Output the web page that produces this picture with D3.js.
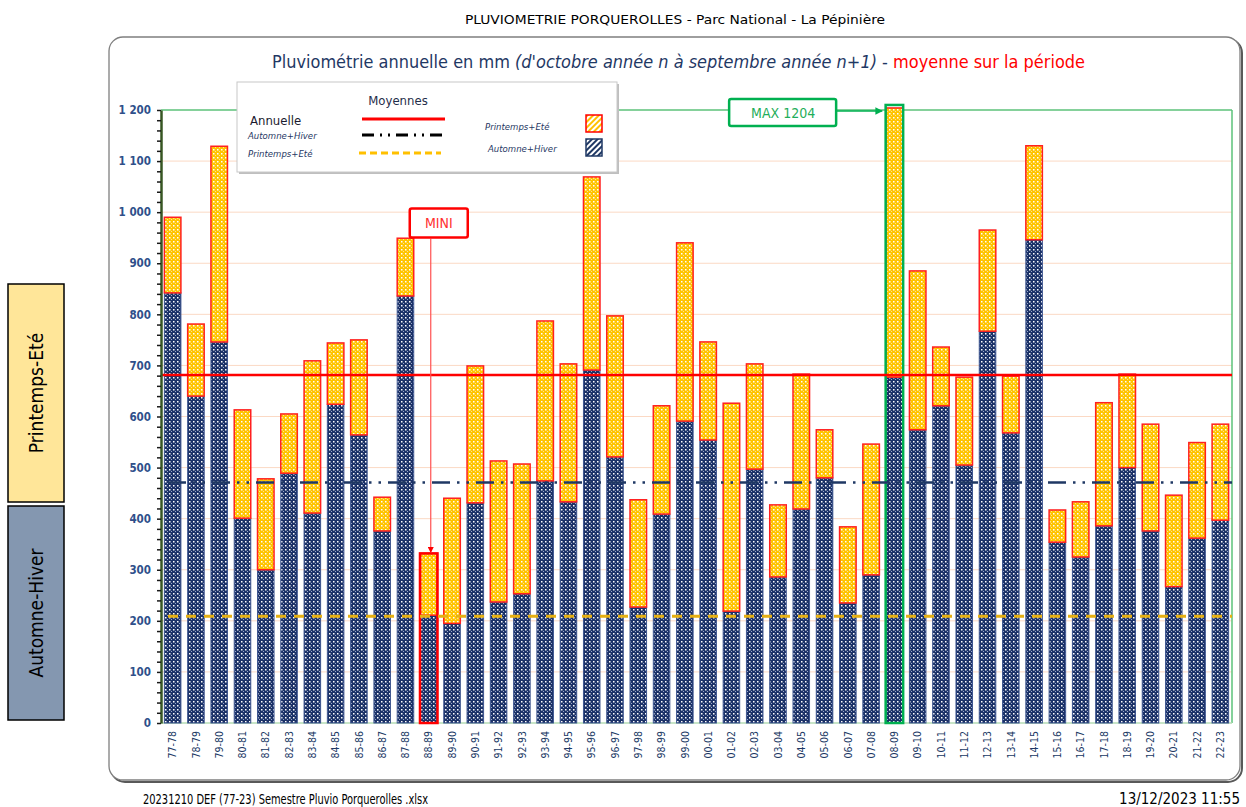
<!DOCTYPE html>
<html lang="fr">
<head>
	<meta charset="UTF-8">
	<title>Pluviométrie Porquerolles</title>
	<script src="https://cdn.jsdelivr.net/npm/d3@7/dist/d3.min.js"></script>
	<style>
		body { margin: 0; background: #fff; }
		text { font-family: "Liberation Sans Narrow", "DejaVu Sans Condensed", "Liberation Sans", sans-serif; }
	</style>
</head>
<body>
	<div id="vis"></div>

	<script>
		var width = 1246;
		var height = 807;

		// saisons (octobre n -> septembre n+1)
		var seasons = ["77-78","78-79","79-80","80-81","81-82","82-83","83-84","84-85","85-86","86-87",
			"87-88","88-89","89-90","90-91","91-92","92-93","93-94","94-95","95-96","96-97",
			"97-98","98-99","99-00","00-01","01-02","02-03","03-04","04-05","05-06","06-07",
			"07-08","08-09","09-10","10-11","11-12","12-13","13-14","14-15","15-16","16-17",
			"17-18","18-19","19-20","20-21","21-22","22-23"];

		// pluie en mm, semestre Automne+Hiver
		var automneHiver = [842,640,746,401,300,489,411,624,564,376,
			836,211,195,431,237,253,474,433,691,521,
			227,409,591,554,219,497,286,419,480,235,
			290,677,574,621,505,767,568,946,354,325,
			386,500,376,267,362,397];

		// pluie en mm, semestre Printemps+Eté
		var printempsEte = [148,141,383,212,178,116,298,120,186,66,
			113,121,245,268,276,254,313,270,378,276,
			210,212,349,192,407,206,141,264,94,149,
			256,527,311,115,172,198,111,184,63,108,
			241,183,209,179,187,188];

		// moyennes sur la période
		var moyAnnuelle = 681;
		var moyAutomneHiver = 471;
		var moyPrintempsEte = 209;

		var yTicks = [0,100,200,300,400,500,600,700,800,900,1000,1100,1200];

		var navy = "#1f3864";
		var orange = "#ffc000";
		var green = "#00b050";

		var svg = d3.select("#vis").append("svg")
			.attr("width", width)
			.attr("height", height);

		// motifs des barres
		var defs = svg.append("defs");

		function dotPattern(id, bg, dot, mid) {
			var p = defs.append("pattern")
				.attr("id", id)
				.attr("patternUnits", "userSpaceOnUse")
				.attr("width", 4).attr("height", 4);
			p.append("rect").attr("width", 4).attr("height", 4).attr("fill", bg);
			p.append("rect").attr("x", 1).attr("y", 1).attr("width", 1.5).attr("height", 1.5).attr("fill", dot);
			p.append("rect").attr("x", 3).attr("y", 3).attr("width", 1).attr("height", 1).attr("fill", mid);
		}
		dotPattern("patAH", "#1c3268", "#ffffff", "#9aa8cc");
		dotPattern("patPE", "#ffc400", "#ffffff", "#ffe38f");

		function hatchPattern(id, bg, line) {
			var p = defs.append("pattern")
				.attr("id", id)
				.attr("patternUnits", "userSpaceOnUse")
				.attr("width", 4).attr("height", 4)
				.attr("patternTransform", "rotate(45)");
			p.append("rect").attr("width", 4).attr("height", 4).attr("fill", bg);
			p.append("rect").attr("width", 2).attr("height", 4).attr("fill", line);
		}
		hatchPattern("hatchPE", "#ffffff", orange);
		hatchPattern("hatchAH", "#ffffff", navy);

		defs.append("marker")
			.attr("id", "arrowRed")
			.attr("viewBox", "0 0 10 10")
			.attr("refX", 9).attr("refY", 5)
			.attr("markerWidth", 5).attr("markerHeight", 5)
			.attr("orient", "auto")
			.append("path").attr("d", "M0,0L10,5L0,10z").attr("fill", "#ff0000");

		defs.append("marker")
			.attr("id", "arrowGreen")
			.attr("viewBox", "0 0 10 10")
			.attr("refX", 9).attr("refY", 5)
			.attr("markerWidth", 5).attr("markerHeight", 5)
			.attr("orient", "auto")
			.append("path").attr("d", "M0,0L10,5L0,10z").attr("fill", green);

		// en-tête
		svg.append("text")
			.attr("x", 675).attr("y", 24)
			.attr("text-anchor", "middle")
			.attr("font-size", 13)
			.attr("fill", "#000")
			.attr("textLength", 420).attr("lengthAdjust", "spacingAndGlyphs")
			.text("PLUVIOMETRIE PORQUEROLLES - Parc National - La Pépinière");

		// cadre arrondi avec ombre
		svg.append("rect")
			.attr("x", 111).attr("y", 39)
			.attr("width", 1131).attr("height", 743)
			.attr("rx", 14)
			.attr("fill", "none")
			.attr("stroke", "#595959")
			.attr("stroke-width", 2);
		svg.append("rect")
			.attr("x", 109).attr("y", 37)
			.attr("width", 1131).attr("height", 743)
			.attr("rx", 14)
			.attr("fill", "#fff")
			.attr("stroke", "#7f7f7f")
			.attr("stroke-width", 1.3);

		// titre
		var title = svg.append("text")
			.attr("x", 272).attr("y", 68)
			.attr("font-size", 17)
			.attr("textLength", 813).attr("lengthAdjust", "spacingAndGlyphs");
		title.append("tspan").attr("fill", navy).text("Pluviométrie annuelle en mm ");
		title.append("tspan").attr("fill", navy).attr("font-style", "italic").text("(d'octobre année n à septembre année n+1)");
		title.append("tspan").attr("fill", navy).text(" - ");
		title.append("tspan").attr("fill", "#ff0000").text("moyenne sur la période");

		// échelles
		var x = d3.scaleBand()
			.domain(seasons)
			.range([161, 1232])
			.paddingInner(0.29)
			.paddingOuter(0.145);

		var y = d3.scaleLinear()
			.domain([0, 1200])
			.range([723, 110]);

		// grille
		svg.append("g")
			.selectAll("line")
			.data(yTicks.filter(function(d) { return d > 0 && d < 1200; }))
			.join("line")
			.attr("x1", 161).attr("x2", 1232)
			.attr("y1", function(d) { return y(d); })
			.attr("y2", function(d) { return y(d); })
			.attr("stroke", "#fbd9c4")
			.attr("stroke-width", 1);

		// cadre vert de la zone de tracé
		svg.append("line")
			.attr("x1", 161).attr("x2", 1232)
			.attr("y1", y(1200)).attr("y2", y(1200))
			.attr("stroke", "#5cc27a").attr("stroke-width", 1.5);
		svg.append("line")
			.attr("x1", 1232).attr("x2", 1232)
			.attr("y1", y(1200)).attr("y2", y(0))
			.attr("stroke", "#5cc27a").attr("stroke-width", 1.5);
		svg.append("line")
			.attr("x1", 161).attr("x2", 1232)
			.attr("y1", y(0)).attr("y2", y(0))
			.attr("stroke", "#b5dcb5").attr("stroke-width", 1.5);

		// barres empilées
		var rows = seasons.map(function(s, i) {
			return { season: s, automneHiver: automneHiver[i], printempsEte: printempsEte[i] };
		});
		var stack = d3.stack().keys(["automneHiver", "printempsEte"])(rows);

		var fills = { automneHiver: "url(#patAH)", printempsEte: "url(#patPE)" };
		var strokes = { automneHiver: "#3d5590", printempsEte: "#ff2020" };

		svg.append("g")
			.selectAll("g")
			.data(stack)
			.join("g")
			.attr("fill", function(d) { return fills[d.key]; })
			.attr("stroke", function(d) { return strokes[d.key]; })
			.attr("stroke-width", function(d) { return d.key == "printempsEte" ? 1.5 : 1; })
			.selectAll("rect")
			.data(function(d) { return d; })
			.join("rect")
			.attr("x", function(d) { return x(d.data.season); })
			.attr("width", x.bandwidth())
			.attr("y", function(d) { return y(d[1]); })
			.attr("height", function(d) { return y(d[0]) - y(d[1]); });

		// min / max
		var totals = rows.map(function(d) { return d.automneHiver + d.printempsEte; });
		var iMin = d3.minIndex(totals);
		var iMax = d3.maxIndex(totals);

		svg.append("rect")
			.attr("x", x(seasons[iMin]) - 0.5)
			.attr("width", x.bandwidth() + 1)
			.attr("y", y(totals[iMin]))
			.attr("height", y(0) - y(totals[iMin]))
			.attr("fill", "none")
			.attr("stroke", "#ff0000")
			.attr("stroke-width", 2.5);

		svg.append("rect")
			.attr("x", x(seasons[iMax]) - 0.5)
			.attr("width", x.bandwidth() + 1)
			.attr("y", y(totals[iMax]) - 3)
			.attr("height", y(0) - y(totals[iMax]) + 3)
			.attr("fill", "none")
			.attr("stroke", green)
			.attr("stroke-width", 2.5);

		// lignes de moyenne
		svg.append("line")
			.attr("x1", 162).attr("x2", 1232)
			.attr("y1", y(moyAnnuelle)).attr("y2", y(moyAnnuelle))
			.attr("stroke", "#ff0000").attr("stroke-width", 2.5);

		svg.append("line")
			.attr("x1", 168).attr("x2", 1232)
			.attr("y1", y(moyAutomneHiver)).attr("y2", y(moyAutomneHiver))
			.attr("stroke", navy).attr("stroke-width", 2.5)
			.attr("stroke-dasharray", "18,7,2.5,7,2.5,7");

		svg.append("line")
			.attr("x1", 168).attr("x2", 1232)
			.attr("y1", y(moyPrintempsEte)).attr("y2", y(moyPrintempsEte))
			.attr("stroke", "#e6b012").attr("stroke-width", 3)
			.attr("stroke-dasharray", "10,8");

		// axe Y
		var fr = d3.formatLocale({ decimal: ",", thousands: " ", grouping: [3], currency: ["", "€"] });
		var yAxis = d3.axisLeft(y)
			.tickValues(yTicks)
			.tickSize(0)
			.tickPadding(10)
			.tickFormat(fr.format(",d"));

		var gy = svg.append("g")
			.attr("transform", "translate(161,0)")
			.call(yAxis);
		gy.select(".domain").attr("stroke", "#375623").attr("stroke-width", 2.5);
		gy.selectAll("text")
			.attr("font-size", 11.5)
			.attr("fill", "#2f4f8a")
			.attr("font-weight", "bold");

		var minorAxis = d3.axisLeft(y)
			.tickValues(d3.range(0, 1201, 20))
			.tickSize(4)
			.tickFormat("");
		var gm = svg.append("g")
			.attr("transform", "translate(161,0)")
			.call(minorAxis);
		gm.select(".domain").remove();
		gm.selectAll("line").attr("stroke", "#1a1a1a").attr("stroke-width", 1.5);

		// axe X
		var xAxis = d3.axisBottom(x).tickSize(0).tickPadding(0);
		var gx = svg.append("g")
			.attr("transform", "translate(0," + y(0) + ")")
			.call(xAxis);
		gx.select(".domain").remove();
		gx.selectAll("text")
			.attr("font-size", 10.5)
			.attr("fill", "#203864")
			.attr("text-anchor", "end")
			.attr("transform", "rotate(-90)")
			.attr("x", -8)
			.attr("y", 0)
			.attr("dy", "0.35em");

		// annotation MINI
		var minX = x(seasons[iMin]) + x.bandwidth() / 2;
		svg.append("line")
			.attr("x1", minX + 2).attr("x2", minX + 2)
			.attr("y1", y(950) + 1).attr("y2", y(totals[iMin]) - 1)
			.attr("stroke", "#ff5050").attr("stroke-width", 1.2)
			.attr("marker-end", "url(#arrowRed)");
		svg.append("rect")
			.attr("x", minX - 19).attr("y", y(1007))
			.attr("width", 58).attr("height", 29)
			.attr("rx", 2)
			.attr("fill", "#fff")
			.attr("stroke", "#ff0000").attr("stroke-width", 2.5);
		svg.append("text")
			.attr("x", minX + 10).attr("y", y(1007) + 19)
			.attr("text-anchor", "middle")
			.attr("font-size", 14)
			.attr("fill", "#ff3030")
			.text("MINI");

		// annotation MAX
		var maxX = x(seasons[iMax]);
		svg.append("line")
			.attr("x1", maxX - 50).attr("x2", maxX - 4)
			.attr("y1", y(1200) + 1).attr("y2", y(1200) + 1)
			.attr("stroke", green).attr("stroke-width", 1.5)
			.attr("marker-end", "url(#arrowGreen)");
		svg.append("rect")
			.attr("x", maxX - 157).attr("y", y(1200) - 11)
			.attr("width", 107).attr("height", 27)
			.attr("rx", 2)
			.attr("fill", "#fff")
			.attr("stroke", green).attr("stroke-width", 2.5);
		svg.append("text")
			.attr("x", maxX - 103).attr("y", y(1200) + 8)
			.attr("text-anchor", "middle")
			.attr("font-size", 14)
			.attr("fill", "#1fae5a")
			.text("MAX " + totals[iMax]);

		// légende
		var lg = svg.append("g");
		lg.append("rect")
			.attr("x", 239).attr("y", 84)
			.attr("width", 380).attr("height", 90)
			.attr("fill", "#bfbfbf");
		lg.append("rect")
			.attr("x", 237).attr("y", 82)
			.attr("width", 380).attr("height", 90)
			.attr("fill", "#fff")
			.attr("stroke", "#c8c8c8").attr("stroke-width", 1);

		lg.append("text").attr("x", 398).attr("y", 105).attr("text-anchor", "middle")
			.attr("font-size", 13).attr("fill", "#1f2d4a").text("Moyennes");
		lg.append("text").attr("x", 250).attr("y", 125)
			.attr("font-size", 13).attr("fill", "#1a1a2e").text("Annuelle");
		lg.append("text").attr("x", 248).attr("y", 139)
			.attr("font-size", 9.5).attr("font-style", "italic").attr("fill", navy).text("Automne+Hiver");
		lg.append("text").attr("x", 248).attr("y", 157)
			.attr("font-size", 9.5).attr("font-style", "italic").attr("fill", navy).text("Printemps+Eté");

		lg.append("line").attr("x1", 362).attr("x2", 445).attr("y1", 119).attr("y2", 119)
			.attr("stroke", "#ff0000").attr("stroke-width", 3);
		lg.append("line").attr("x1", 362).attr("x2", 445).attr("y1", 135).attr("y2", 135)
			.attr("stroke", "#000").attr("stroke-width", 3)
			.attr("stroke-dasharray", "12,6,2,6,2,6");
		lg.append("line").attr("x1", 359).attr("x2", 441).attr("y1", 153).attr("y2", 153)
			.attr("stroke", orange).attr("stroke-width", 3)
			.attr("stroke-dasharray", "7,4");

		lg.append("text").attr("x", 485).attr("y", 130)
			.attr("font-size", 9.5).attr("font-style", "italic").attr("fill", navy).text("Printemps+Eté");
		lg.append("text").attr("x", 488).attr("y", 152)
			.attr("font-size", 9.5).attr("font-style", "italic").attr("fill", navy).text("Automne+Hiver");
		lg.append("rect").attr("x", 586).attr("y", 115).attr("width", 16).attr("height", 17)
			.attr("fill", "url(#hatchPE)").attr("stroke", "#ff0000").attr("stroke-width", 1.5);
		lg.append("rect").attr("x", 586).attr("y", 139).attr("width", 16).attr("height", 17)
			.attr("fill", "url(#hatchAH)").attr("stroke", navy).attr("stroke-width", 1.5);

		// étiquettes de semestre à gauche
		var side = [
			{ label: "Printemps-Eté", y0: 284, h: 218, fill: "#ffe699" },
			{ label: "Automne-Hiver", y0: 506, h: 214, fill: "#8497b0" }
		];
		var sg = svg.append("g").selectAll("g").data(side).join("g");
		sg.append("rect")
			.attr("x", 8).attr("y", function(d) { return d.y0; })
			.attr("width", 56).attr("height", function(d) { return d.h; })
			.attr("fill", function(d) { return d.fill; })
			.attr("stroke", "#000").attr("stroke-width", 1.5);
		sg.append("text")
			.attr("transform", function(d) { return "translate(43," + (d.y0 + d.h / 2) + ") rotate(-90)"; })
			.attr("text-anchor", "middle")
			.attr("font-family", "'Open Sans', 'Noto Sans', sans-serif")
			.attr("font-size", 19)
			.attr("fill", "#000")
			.text(function(d) { return d.label; });

		// pied de page
		svg.append("text")
			.attr("x", 143).attr("y", 804)
			.attr("font-size", 14)
			.attr("textLength", 285).attr("lengthAdjust", "spacingAndGlyphs")
			.text("20231210 DEF (77-23) Semestre Pluvio Porquerolles .xlsx");
		svg.append("text")
			.attr("x", 1240).attr("y", 804)
			.attr("text-anchor", "end")
			.attr("font-size", 15)
			.text("13/12/2023 11:55");
	</script>
</body>
</html>
